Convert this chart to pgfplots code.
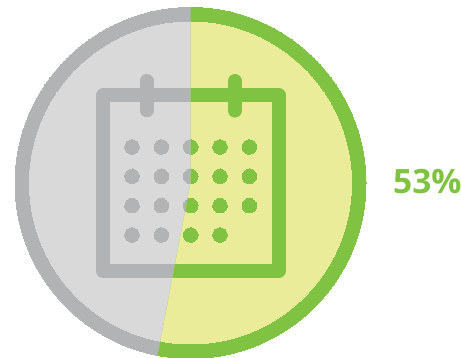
\documentclass[border=0pt]{standalone}
\usepackage{fontspec}
\setmainfont{Open Sans}
\usepackage{pgfplots}
\pgfplotsset{compat=1.18}
\definecolor{leaf}{HTML}{80C342}
\definecolor{pale}{HTML}{EAEC9A}
\definecolor{steel}{HTML}{B1B3B4}
\definecolor{mist}{HTML}{D9D9D9}

% Share of the circle in the green sector, percent
\def\share{53}
\def\cx{190.5}
\def\cy{183}
\pgfmathsetmacro\rayx{\cx-(358-\cy)*tan(3.6*\share-180)}
\pgfmathsetmacro\cyup{358-\cy}

% One unit of data is one point of the page; y runs downward
\pgfplotsset{sheet/.style={
  scale only axis, width=461pt, height=358pt,
  xmin=0, xmax=461, ymin=0, ymax=358, y dir=reverse,
  hide axis, clip=false, anchor=south west, at={(0pt,0pt)}}}

% Calendar artwork, shared by the grey and the green layer
\newcommand\calicon[1]{%
  \begin{axis}[sheet]
  \addplot[#1, line width=14pt, line join=round, forget plot]
    coordinates {(103,95.5) (278.7,95.5) (278.7,271) (103,271) (103,95.5) (278.7,95.5)};
  \addplot[#1, line width=14pt, line cap=round, forget plot]
    coordinates {(146.7,81) (146.7,110.3)};
  \addplot[#1, line width=14pt, line cap=round, forget plot]
    coordinates {(234.7,81) (234.7,110.6)};
  \addplot[#1, only marks, mark=*, mark size=7.3pt, mark options={draw=#1, fill=#1, line width=0pt}, forget plot]
    coordinates {
      (132,147)   (161.3,147)   (190.7,147)   (220,147)   (249.3,147)
      (132,176.3) (161.3,176.3) (190.7,176.3) (220,176.3) (249.3,176.3)
      (132,205.7) (161.3,205.7) (190.7,205.7) (220,205.7) (249.3,205.7)
      (132,235)   (161.3,235)   (190.7,235)   (220,235)
    };
  \end{axis}
}
% Ring and inner disc
\newcommand\disc[2]{%
  \begin{axis}[sheet]
  \addplot[#1, only marks, mark=*, mark size=175.5pt, mark options={draw=#1, fill=#1, line width=0pt}, forget plot]
    coordinates {(\cx,\cy)};
  \end{axis}
  \begin{axis}[sheet]
  \addplot[#2, only marks, mark=*, mark size=161pt, mark options={draw=#2, fill=#2, line width=0pt}, forget plot]
    coordinates {(\cx,\cy)};
  \end{axis}
}

\begin{document}
\begin{tikzpicture}
  \useasboundingbox (0pt,0pt) rectangle (461pt,358pt);
  \disc{steel}{mist}
  \calicon{steel}
  \begin{scope}
    % Sector of the green share, starting at twelve o'clock and running clockwise
    \clip (\cx pt,\cyup pt) -- (\cx pt,358pt) -- (461pt,358pt)
      -- (461pt,0pt) -- (\rayx pt,0pt) -- cycle;
    \disc{leaf}{pale}
    \calicon{leaf}
  \end{scope}
  \begin{axis}[sheet]
  \node[anchor=base west, inner sep=0pt, text=leaf, font=\fontsize{33.5}{33.5}\selectfont\bfseries]
    at (axis cs:393,193.5) {53\%};
  \end{axis}
\end{tikzpicture}
\end{document}
